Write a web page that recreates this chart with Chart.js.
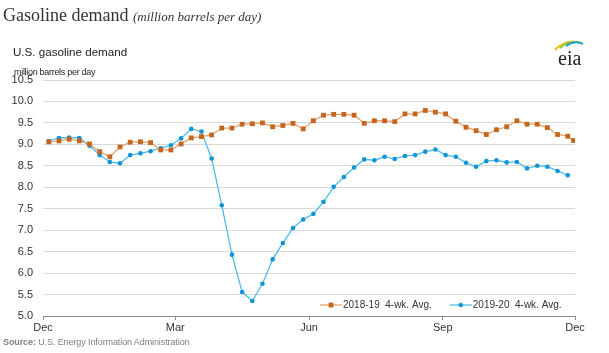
<!DOCTYPE html>
<html><head><meta charset="utf-8">
<script src="https://cdn.jsdelivr.net/npm/chart.js@4.4.1/dist/chart.umd.min.js"></script>
<style>
html,body{margin:0;padding:0;background:#fff;}
#wrap{position:relative;width:609px;height:353px;overflow:hidden;background:#fff;}
#c{position:absolute;left:0;top:0;}
.t{position:absolute;white-space:nowrap;color:#333;}
</style></head><body>
<div id="wrap">
<canvas id="c" width="609" height="353"></canvas>
<div class="t" style="left:3px;top:6px;font:18px/18px 'Liberation Serif','Times New Roman',serif;color:#333;">Gasoline demand <span style="font-style:italic;font-size:13px;">(million barrels per day)</span></div>
<div class="t" style="left:13px;top:46px;font:11.6px/12px 'Liberation Sans',Arial,sans-serif;color:#222;">U.S. gasoline demand</div>
<div class="t" style="left:14px;top:68px;font:9px/9px 'Liberation Sans',Arial,sans-serif;letter-spacing:-0.3px;color:#222;">million barrels per day</div>
<svg class="t" style="left:550px;top:34px;" width="44" height="36" viewBox="0 0 44 36">
  <path d="M5 16 Q14 6 26 8" stroke="#F2C01B" stroke-width="2" fill="none"/>
  <path d="M10 14 Q20 5 32 9" stroke="#8CC63E" stroke-width="2" fill="none"/>
  <path d="M16 12 Q25 6 33 10" stroke="#1C9AD6" stroke-width="1.8" fill="none"/>
  <text x="8" y="31" font-family="'Liberation Serif','Times New Roman',serif" font-size="20" fill="#222">eia</text>
</svg>
<div class="t" style="left:3px;top:338px;font:9px/9px 'Liberation Sans',Arial,sans-serif;color:#808080;letter-spacing:-0.1px;"><b>Source:</b> U.S. Energy Information Administration</div>
</div>
<script>
// ---- data ----
const xTickDays = [0, 91, 183, 275, 366];          // Dec 1, Mar 1, Jun 1, Sep 1, Dec 1 (days from Dec 1)
const xTickLabels = ['Dec', 'Mar', 'Jun', 'Sep', 'Dec'];
const seriesLabels = ['2018-19  4-wk. Avg.', '2019-20  4-wk. Avg.'];

// weekly observation dates (days since Dec 1)
const weekDays = [4,11,18,25,32,39,46,53,60,67,74,81,88,95,102,109,116,123,130,137,144,151,158,165,172,179,186,193,200,207,214,221,228,235,242,249,256,263,270,277,284,291,298,305,312,319,326,333,340,347,354,361];
const weekDays2018_19 = weekDays.concat([365]);

const demand2018_19 = [9.06,9.08,9.12,9.08,9.01,8.83,8.71,8.94,9.05,9.06,9.04,8.87,8.87,9.01,9.15,9.18,9.22,9.38,9.38,9.47,9.48,9.50,9.41,9.44,9.49,9.36,9.55,9.68,9.70,9.70,9.68,9.49,9.55,9.55,9.53,9.71,9.71,9.79,9.75,9.71,9.54,9.40,9.32,9.23,9.34,9.41,9.55,9.47,9.47,9.39,9.23,9.19,9.09];
const demand2019_20 = [9.08,9.15,9.16,9.15,8.97,8.75,8.59,8.56,8.75,8.79,8.84,8.91,8.98,9.14,9.36,9.30,8.67,7.58,6.43,5.56,5.35,5.75,6.32,6.70,7.05,7.25,7.38,7.66,8.01,8.24,8.46,8.65,8.63,8.71,8.66,8.73,8.75,8.83,8.88,8.75,8.71,8.57,8.48,8.61,8.63,8.58,8.59,8.44,8.50,8.48,8.38,8.28];

const pts = (days, vals) => vals.map((v, i) => ({x: days[i], y: v}));

const FONT = "'Liberation Sans', Arial, sans-serif";

const legendPlugin = {
  id: 'lineLegend',
  afterDatasetsDraw(chart) {
    const ctx = chart.ctx, a = chart.chartArea;
    const y = a.bottom - 11;
    let x = a.left + 277;
    ctx.save();
    ctx.font = '10px ' + FONT;
    ctx.textBaseline = 'middle';
    ctx.textAlign = 'left';
    chart.data.datasets.forEach(ds => {
      ctx.strokeStyle = ds.borderColor;
      ctx.lineWidth = ds.borderWidth;
      ctx.beginPath(); ctx.moveTo(x, y); ctx.lineTo(x + 22, y); ctx.stroke();
      ctx.fillStyle = ds.pointBackgroundColor;
      if (ds.pointStyle === 'rect') {
        ctx.fillRect(x + 11 - 2.4, y - 2.4, 4.8, 4.8);
      } else {
        ctx.beginPath(); ctx.arc(x + 11, y, 2.2, 0, Math.PI * 2); ctx.fill();
      }
      ctx.fillStyle = '#333';
      ctx.fillText(ds.label, x + 23, y + 0.5);
      x += 23 + ctx.measureText(ds.label).width + 18;
    });
    ctx.restore();
  }
};

new Chart(document.getElementById('c'), {
  type: 'line',
  data: {
    datasets: [
      {
        label: seriesLabels[0],
        data: pts(weekDays2018_19, demand2018_19),
        borderColor: '#E3A46E',
        borderWidth: 1.3,
        pointStyle: 'rect',
        pointRadius: 3.4,
        pointBackgroundColor: '#C6651E',
        pointBorderColor: '#C6651E',
        pointBorderWidth: 0,
        tension: 0
      },
      {
        label: seriesLabels[1],
        data: pts(weekDays, demand2019_20),
        borderColor: '#52BBEA',
        borderWidth: 1.3,
        pointStyle: 'circle',
        pointRadius: 2.3,
        pointBackgroundColor: '#0D95D6',
        pointBorderColor: '#0D95D6',
        pointBorderWidth: 0,
        tension: 0
      }
    ]
  },
  options: {
    responsive: false,
    devicePixelRatio: 1,
    animation: false,
    layout: { padding: { top: 80, right: 34, bottom: 17, left: 0 } },
    plugins: { legend: { display: false }, tooltip: { enabled: false } },
    scales: {
      x: {
        type: 'linear', min: 0, max: 366,
        afterBuildTicks: s => { s.ticks = xTickDays.map(v => ({ value: v })); },
        afterFit: s => { s.height = 20; },
        ticks: {
          callback: (v, i) => xTickLabels[i],
          autoSkip: false, maxRotation: 0, padding: 1,
          color: '#333', font: { size: 11, family: FONT }
        },
        grid: { drawOnChartArea: false, drawTicks: true, tickLength: 4, color: '#8c8c8c', tickColor: '#8c8c8c' },
        border: { display: true, color: '#8c8c8c', width: 1 }
      },
      y: {
        min: 5, max: 10.5,
        afterFit: s => { s.width = 43; },
        ticks: {
          stepSize: 0.5,
          callback: v => Number(v).toFixed(1),
          padding: 10, color: '#333', font: { size: 11, family: FONT }
        },
        grid: { color: '#d9d9d9', drawTicks: false },
        border: { display: false }
      }
    }
  },
  plugins: [legendPlugin]
});
</script>
</body></html>
